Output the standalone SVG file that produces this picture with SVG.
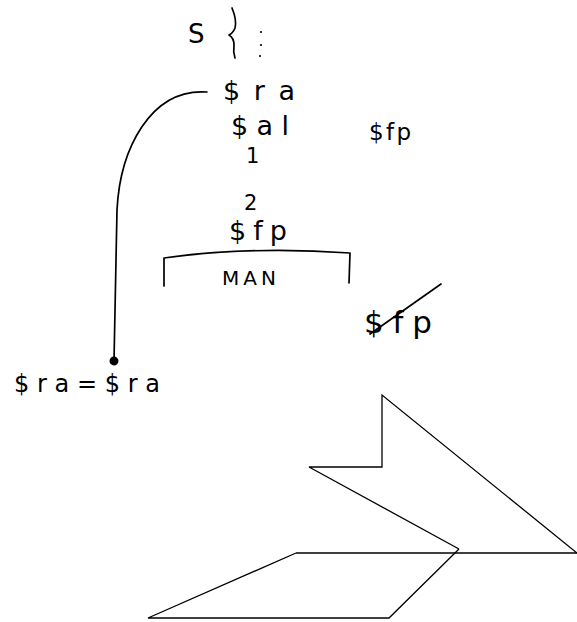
<svg xmlns="http://www.w3.org/2000/svg" width="577" height="622" viewBox="0 0 577 622">
<defs>
<style>
.t{font-family:"DejaVu Sans","Liberation Sans",sans-serif;font-size:22px;fill:#000}
.s{fill:none;stroke:#000;stroke-width:1.7;stroke-linecap:round;stroke-linejoin:round}
.h{fill:none;stroke:#000;stroke-width:1.3;stroke-linejoin:miter}
</style>
<marker id="blob" viewBox="0 0 10 10" refX="5" refY="5" markerWidth="10" markerHeight="10" orient="auto" markerUnits="userSpaceOnUse">
<circle cx="5" cy="5" r="4.5" fill="#000"/>
</marker>
</defs>
<rect width="577" height="622" fill="#fff"/>
<g id="header">
<text class="t" x="188" y="43" style="font-size:26px">S</text>
<path class="s" d="M232,8 Q237,20 235,28 Q233,33 229,35 Q234,38 234,45 Q233,52 235,58"/>
<circle cx="261" cy="32" r="1.1" fill="#000"/>
<circle cx="261" cy="45" r="1.1" fill="#000"/>
<circle cx="260" cy="56" r="1.1" fill="#000"/>
</g>
<g id="stack">
<text class="t" x="223" y="100" style="font-size:27px" textLength="72" lengthAdjust="spacing">$ra</text>
<text class="t" x="231" y="135" style="font-size:27px" textLength="58" lengthAdjust="spacing">$al</text>
<text class="t" x="246" y="163" style="font-size:21px">1</text>
<text class="t" x="244" y="210" style="font-size:21px">2</text>
<text class="t" x="229" y="240" style="font-size:27px" textLength="58" lengthAdjust="spacing">$fp</text>
</g>
<g id="main">
<path class="s" d="M164,286 L164,258 Q250,246 350,253 L349,283"/>
<text class="t" x="222" y="285" style="font-size:20px" textLength="54" lengthAdjust="spacing">MAN</text>
</g>
<g id="fp-right">
<text class="t" x="369" y="140" style="font-size:23px" textLength="42" lengthAdjust="spacing">$fp</text>
</g>
<g id="fp-struck">
<text class="t" x="364" y="333" style="font-size:31px" textLength="68" lengthAdjust="spacing">$fp</text>
<line class="s" x1="370" y1="334" x2="441" y2="284"/>
</g>
<g id="assign">
<text class="t" x="14" y="392" style="font-size:24px" textLength="146" lengthAdjust="spacing">$ra=$ra</text>
</g>
<g id="connectors">
<path class="s" d="M207,92 C150,88 120,150 117,210 L114,361" marker-end="url(#blob)"/>
</g>
<g id="shapes">
<polyline class="h" points="577,553 382,395 382,467 309,467 459,549"/>
<line class="h" x1="296" y1="553" x2="577" y2="553"/>
<polyline class="h" points="459,549 389,618 148,618 296,553"/>
</g>
</svg>
